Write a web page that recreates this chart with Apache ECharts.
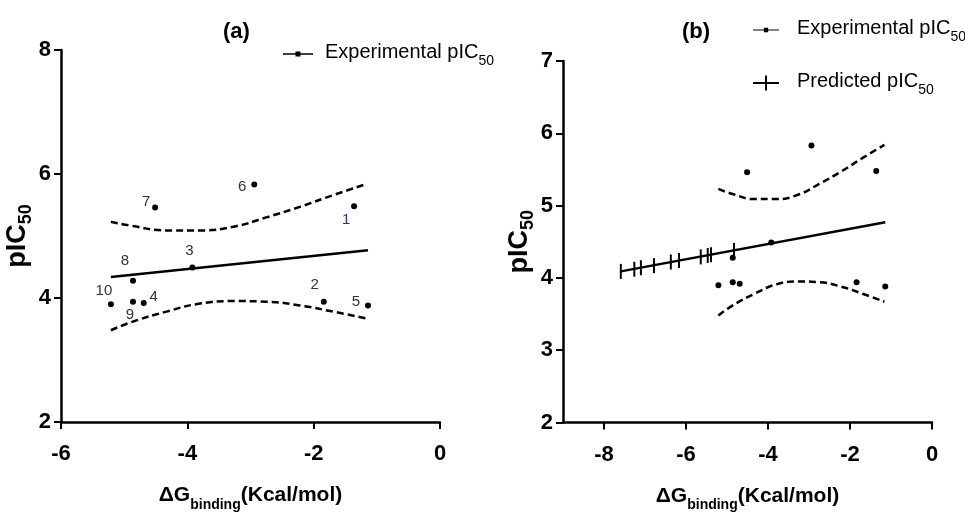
<!DOCTYPE html>
<html>
<head>
<meta charset="utf-8">
<script src="https://cdn.jsdelivr.net/npm/echarts@6/dist/echarts.min.js"></script>
<style>
  html, body { margin: 0; padding: 0; background: #fff; }
  #chart { width: 965px; height: 512px; }
</style>
</head>
<body>
<div id="chart"></div>
<script>
// compounds 1..10, experimental pIC50 against binding energy
const compoundLabels = ["1", "2", "3", "4", "5", "6", "7", "8", "9", "10"];
const expDG = [-1.36, -1.84, -3.92, -4.69, -1.14, -2.94, -4.51, -4.86, -4.86, -5.21];
const expPIC50 = [5.48, 3.94, 4.49, 3.92, 3.88, 5.83, 5.46, 4.28, 3.94, 3.90];

// predicted pIC50 (panel b)
const predDG = [-7.59, -7.26, -7.10, -6.78, -6.37, -6.17, -5.64, -5.47, -5.39, -4.83];
const predPIC50 = [4.09, 4.12, 4.14, 4.17, 4.22, 4.24, 4.29, 4.31, 4.32, 4.38];

// regression line ends
const fitDG_a = [-5.21, -1.14];
const fitPIC50_a = [4.34, 4.77];
const fitDG_b = [-7.59, -1.14];
const fitPIC50_b = [4.09, 4.77];

// 95% confidence band
const bandDG = [-5.21, -4.86, -4.33, -3.80, -3.27, -2.75, -2.22, -1.69, -1.16];
const bandUpper = [5.23, 5.16, 5.09, 5.09, 5.15, 5.30, 5.47, 5.66, 5.84];
const bandLower = [3.48, 3.62, 3.78, 3.91, 3.95, 3.94, 3.88, 3.78, 3.67];

// axis ticks
const xTicksA = [-6, -4, -2, 0];
const yTicksA = [2, 4, 6, 8];
const xTicksB = [-8, -6, -4, -2, 0];
const yTicksB = [2, 3, 4, 5, 6, 7];

// label nudges (px) for the compound numbers in panel (a)
const labelNudge = [[-8, 14], [-9, -17], [-3, -17], [10, -6], [-12, -4], [-12, 2], [-9, -6], [-8, -20], [-3, 13], [-7, -13]];

const NARROW = "'Liberation Sans Narrow', 'Arial Narrow', 'Liberation Sans', Arial, sans-serif";
const SANS = "'Liberation Sans', Arial, sans-serif";

const zip = (xs, ys) => xs.map((x, i) => [x, ys[i]]);

const chart = echarts.init(document.getElementById("chart"));

function xAxisCfg(grid, min, max, ticks) {
  return {
    type: "value",
    gridIndex: grid,
    min: min,
    max: max,
    name: "{m|ΔG}{s|binding}{m|(Kcal/mol)}",
    nameLocation: "middle",
    nameGap: 63,
    nameTextStyle: {
      fontFamily: NARROW,
      fontWeight: "bold",
      color: "#000",
      rich: {
        m: { fontFamily: NARROW, fontWeight: "bold", fontSize: 21, lineHeight: 22, verticalAlign: "top", color: "#000" },
        s: { fontFamily: NARROW, fontWeight: "bold", fontSize: 14, lineHeight: 14, padding: [13, 0, 0, 0], verticalAlign: "top", color: "#000" },
      },
    },
    splitLine: { show: false },
    axisLine: { onZero: false, lineStyle: { color: "#000", width: 2.5 } },
    axisTick: { customValues: ticks, length: 7, lineStyle: { color: "#000", width: 2 } },
    axisLabel: {
      customValues: ticks,
      margin: 21,
      color: "#000",
      fontFamily: NARROW,
      fontWeight: "bold",
      fontSize: 22,
    },
  };
}

function yAxisCfg(grid, min, max, ticks, gap) {
  return {
    type: "value",
    gridIndex: grid,
    min: min,
    max: max,
    name: "{m|pIC}{s|50}",
    nameLocation: "middle",
    nameRotate: 90,
    nameGap: gap,
    nameTextStyle: {
      rich: {
        m: { fontFamily: SANS, fontWeight: "bold", fontSize: 27, lineHeight: 26, verticalAlign: "top", color: "#000" },
        s: { fontFamily: SANS, fontWeight: "bold", fontSize: 18, lineHeight: 17, padding: [13, 0, 0, 0], verticalAlign: "top", color: "#000" },
      },
    },
    splitLine: { show: false },
    axisLine: { onZero: false, lineStyle: { color: "#000", width: 2.5 } },
    axisTick: { customValues: ticks, length: 7, lineStyle: { color: "#000", width: 2 } },
    axisLabel: {
      customValues: ticks,
      margin: 10,
      color: "#000",
      fontFamily: NARROW,
      fontWeight: "bold",
      fontSize: 22,
    },
  };
}

const legendText = {
  color: "#000",
  rich: {
    m: { fontFamily: NARROW, fontSize: 20, lineHeight: 24, verticalAlign: "top", color: "#000" },
    s: { fontFamily: NARROW, fontSize: 14, lineHeight: 17, padding: [12, 0, 0, 0], verticalAlign: "top", color: "#000" },
  },
};
const legendFmt = (name) => "{m|" + name.replace("50", "") + "}{s|50}";
const expIcon = "path://M0,1.8 L30,1.8 L30,3.2 L0,3.2 Z M12.5,0 L17.5,0 L17.5,5 L12.5,5 Z";
const predIcon = "path://M0,6.5 L26,6.5 L26,8.5 L0,8.5 Z M12,0 L14,0 L14,15 L12,15 Z";

function fitSeries(xi, xs, ys) {
  return {
    type: "line",
    xAxisIndex: xi,
    yAxisIndex: xi,
    data: zip(xs, ys),
    symbol: "none",
    lineStyle: { color: "#000", width: 2.5 },
    silent: true,
    z: 3,
  };
}
function bandSeries(xi, ys) {
  return {
    type: "line",
    xAxisIndex: xi,
    yAxisIndex: xi,
    data: zip(bandDG, ys),
    smooth: true,
    symbol: "none",
    lineStyle: { color: "#000", width: 2.5, type: [7, 4] },
    silent: true,
    z: 3,
  };
}

const expDataA = expDG.map((x, i) => ({
  value: [x, expPIC50[i]],
  label: {
    show: true,
    formatter: compoundLabels[i],
    position: "inside",
    offset: labelNudge[i],
    color: i === 0 ? "#24357a" : "#333",
  },
}));

const option = {
  animation: false,
  backgroundColor: "#fff",
  title: [
    { text: "(a)", left: 223, top: 21, padding: 0, textStyle: { fontFamily: NARROW, fontWeight: "bold", fontSize: 22, color: "#000" } },
    { text: "(b)", left: 682, top: 21, padding: 0, textStyle: { fontFamily: NARROW, fontWeight: "bold", fontSize: 22, color: "#000" } },
  ],
  legend: [
    {
      left: 283, top: 42, padding: 0,
      itemWidth: 30, itemHeight: 5,
      data: [{ name: "Experimental pIC50", icon: expIcon }],
      formatter: legendFmt,
      textStyle: Object.assign({ padding: [0, 0, 0, 7] }, legendText),
      selectedMode: false,
    },
    {
      left: 753, top: 18, padding: 0,
      itemWidth: 26, itemHeight: 5,
      data: [{ name: "Experimental pIC50", icon: expIcon }],
      formatter: legendFmt,
      textStyle: Object.assign({ padding: [0, 0, 0, 13] }, legendText),
      selectedMode: false,
    },
    {
      left: 753, top: 71, padding: 0,
      itemWidth: 26, itemHeight: 15,
      data: [{ name: "Predicted pIC50", icon: predIcon }],
      formatter: legendFmt,
      textStyle: Object.assign({ padding: [0, 0, 0, 13] }, legendText),
      selectedMode: false,
    },
  ],
  grid: [
    { left: 61, top: 50, width: 379, height: 372, outerBoundsMode: "none" },
    { left: 563, top: 61, width: 369, height: 361.5, outerBoundsMode: "none" },
  ],
  xAxis: [xAxisCfg(0, -6, 0, xTicksA), xAxisCfg(1, -9, 0, xTicksB)],
  yAxis: [yAxisCfg(0, 2, 8, yTicksA, 27), yAxisCfg(1, 2, 7, yTicksB, 28)],
  series: [
    fitSeries(0, fitDG_a, fitPIC50_a),
    bandSeries(0, bandUpper),
    bandSeries(0, bandLower),
    {
      name: "Experimental pIC50",
      type: "scatter",
      xAxisIndex: 0,
      yAxisIndex: 0,
      symbol: "circle",
      symbolSize: 6,
      itemStyle: { color: "#000", opacity: 1 },
      label: { fontFamily: NARROW, fontSize: 15 },
      data: expDataA,
      z: 5,
    },
    fitSeries(1, fitDG_b, fitPIC50_b),
    bandSeries(1, bandUpper),
    bandSeries(1, bandLower),
    {
      name: "Experimental pIC50",
      type: "scatter",
      xAxisIndex: 1,
      yAxisIndex: 1,
      symbol: "circle",
      symbolSize: 6,
      itemStyle: { color: "#000", opacity: 1 },
      data: zip(expDG, expPIC50),
      z: 5,
    },
    {
      name: "Predicted pIC50",
      type: "scatter",
      xAxisIndex: 1,
      yAxisIndex: 1,
      symbol: "path://M0,0 L2,0 L2,15 L0,15 Z",
      symbolSize: [2, 15],
      itemStyle: { color: "#000", opacity: 1 },
      data: zip(predDG, predPIC50),
      z: 5,
    },
  ],
};

chart.setOption(option);
window.addEventListener("resize", () => {
  chart.resize();
});
</script>
</body>
</html>
